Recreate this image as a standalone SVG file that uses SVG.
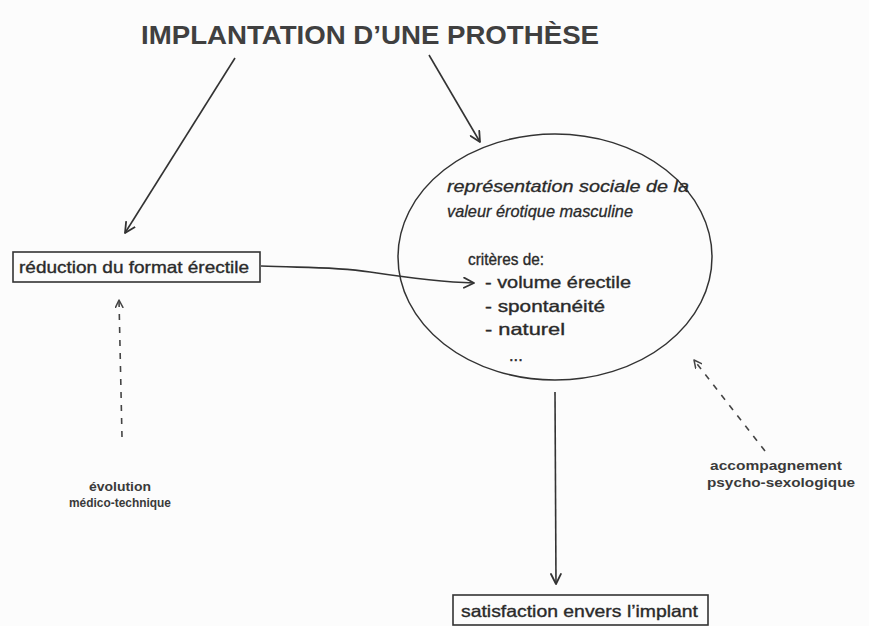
<svg xmlns="http://www.w3.org/2000/svg" width="869" height="626" viewBox="0 0 869 626">
  <defs>
    <marker id="open" viewBox="0 0 12 12" refX="11" refY="6" markerWidth="12" markerHeight="12" markerUnits="userSpaceOnUse" orient="auto">
      <path d="M1,1 L11,6 L1,11" fill="none" stroke="#333" stroke-width="1.8" stroke-linecap="round" stroke-linejoin="round"/>
    </marker>
    <marker id="openSmall" viewBox="0 0 12 12" refX="11" refY="6" markerWidth="9" markerHeight="9" markerUnits="userSpaceOnUse" orient="auto">
      <path d="M1,1 L11,6 L1,11" fill="none" stroke="#444" stroke-width="2" stroke-linecap="round" stroke-linejoin="round"/>
    </marker>
  </defs>
  <style>
    text { font-family: "Liberation Sans", Arial, sans-serif; fill: #2a2a2a; }
    .title { font-size: 25px; font-weight: bold; fill: #404040; }
    .box { fill: none; stroke: #333; stroke-width: 1.6; }
    .lbl { font-size: 16.5px; stroke: #2a2a2a; stroke-width: 0.35; }
    .it { font-size: 17px; font-style: italic; stroke: #2a2a2a; stroke-width: 0.3; }
    .small { font-size: 12.5px; font-weight: bold; fill: #3a3a3a; }
    .conn { fill: none; stroke: #333; stroke-width: 1.6; }
    .dash { fill: none; stroke: #444; stroke-width: 1.6; stroke-dasharray: 6 7; }
  </style>
  <rect width="869" height="626" fill="#fcfcfc"/>

  <g id="title">
    <text class="title" x="141" y="44" textLength="458" lengthAdjust="spacingAndGlyphs">IMPLANTATION D’UNE PROTHÈSE</text>
  </g>

  <g id="reduction">
    <rect class="box" x="13" y="252" width="247" height="30"/>
    <text class="lbl" x="19" y="273" textLength="230" lengthAdjust="spacingAndGlyphs">réduction du format érectile</text>
  </g>

  <g id="representation">
    <ellipse cx="555" cy="257" rx="157" ry="123" fill="none" stroke="#333" stroke-width="1.5"/>
    <text class="it" x="447" y="192" textLength="242" lengthAdjust="spacingAndGlyphs">représentation sociale de la</text>
    <text class="it" x="447" y="217" textLength="186" lengthAdjust="spacingAndGlyphs">valeur érotique masculine</text>
    <text class="lbl" x="468" y="265" textLength="76" lengthAdjust="spacingAndGlyphs">critères de:</text>
    <text class="lbl" x="485" y="288" textLength="146" lengthAdjust="spacingAndGlyphs">- volume érectile</text>
    <text class="lbl" x="485" y="312" textLength="120" lengthAdjust="spacingAndGlyphs">- spontanéité</text>
    <text class="lbl" x="485" y="335" textLength="80" lengthAdjust="spacingAndGlyphs">- naturel</text>
    <text class="lbl" x="509" y="361">...</text>
  </g>

  <g id="evolution">
    <text class="small" x="120" y="491" text-anchor="middle" textLength="62" lengthAdjust="spacingAndGlyphs">évolution</text>
    <text class="small" x="120" y="507" text-anchor="middle" textLength="102" lengthAdjust="spacingAndGlyphs">médico-technique</text>
  </g>

  <g id="accompagnement">
    <text class="small" x="776" y="470" text-anchor="middle" textLength="132" lengthAdjust="spacingAndGlyphs">accompagnement</text>
    <text class="small" x="781" y="487" text-anchor="middle" textLength="148" lengthAdjust="spacingAndGlyphs">psycho-sexologique</text>
  </g>

  <g id="satisfaction">
    <rect class="box" x="453" y="595" width="255" height="30"/>
    <text class="lbl" x="461" y="617" textLength="237" lengthAdjust="spacingAndGlyphs">satisfaction envers l’implant</text>
  </g>

  <g id="connectors">
    <line class="conn" x1="235" y1="58" x2="125" y2="233" marker-end="url(#open)"/>
    <line class="conn" x1="429" y1="55" x2="480" y2="142" marker-end="url(#open)"/>
    <path class="conn" d="M261,266 C300,268 330,266 370,272 C410,278 440,282 474,283" marker-end="url(#open)"/>
    <line class="conn" x1="555" y1="392" x2="556" y2="584" marker-end="url(#open)"/>
    <line class="dash" x1="122" y1="437" x2="119" y2="300" marker-end="url(#openSmall)"/>
    <line class="dash" x1="765" y1="451" x2="694" y2="360" marker-end="url(#openSmall)"/>
  </g>
</svg>
